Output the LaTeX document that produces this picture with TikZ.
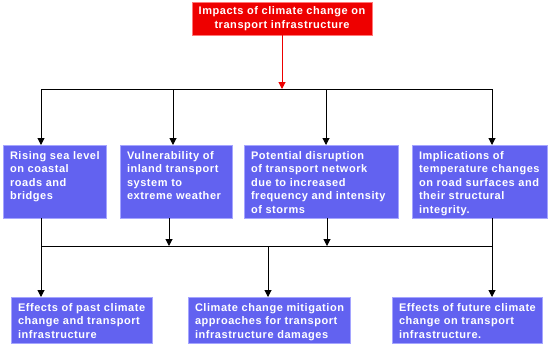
\documentclass[tikz,border=0pt]{standalone}
\usepackage{fontspec}
\setmainfont{Liberation Sans}[LetterSpace=5]
\usetikzlibrary{arrows.meta}
\definecolor{boxblue}{RGB}{98,98,240}
\definecolor{boxedge}{RGB}{165,165,255}
\definecolor{topred}{RGB}{238,0,0}
\definecolor{rededge}{RGB}{255,120,120}
\begin{document}
\begin{tikzpicture}[x=1bp,y=-1bp,
  bx/.style={fill=boxblue,draw=boxedge,line width=0.8bp,text=white,
    font=\fontsize{11bp}{13.4bp}\selectfont\bfseries,inner sep=0bp,
    anchor=north west,outer sep=0pt},
  topbox/.style={fill=topred,draw=rededge,line width=0.8bp,text=white,
    font=\fontsize{11bp}{13.6bp}\selectfont\bfseries,align=center,
    minimum width=180bp,minimum height=33bp,inner sep=0pt,anchor=north west,outer sep=0pt},
  conn/.style={line width=1bp,black},
  arr/.style={conn,-{Triangle[length=7bp,width=7bp]}},
  redarr/.style={line width=1bp,topred,-{Triangle[length=7bp,width=7bp]}}]
\newcommand{\bxt}[3]{\parbox[t][#2][t]{#1}{\vspace{6.5bp}\leftskip=7bp\rightskip=0pt plus 1fil\parfillskip=0pt plus 1fil\hbadness=10000\hfuzz=20bp\noindent #3}}
\useasboundingbox (0,0) rectangle (550,346);

\node[topbox] (top) at (192,2) {Impacts of climate change on\\transport infrastructure};

\node[bx] (b1) at (3,145) {\bxt{103bp}{73bp}{Rising sea level\\on coastal\\roads and\\bridges}};
\node[bx] (b2) at (120,145) {\bxt{112bp}{73bp}{Vulnerability of\\inland transport\\system to\\extreme weather}};
\node[bx] (b3) at (244,145) {\bxt{154bp}{73bp}{Potential disruption\\of transport network\\due to increased\\frequency and intensity\\of storms}};
\node[bx] (b4) at (412,145) {\bxt{135bp}{73bp}{Implications of\\temperature changes\\on road surfaces and\\their structural\\integrity.}};

\node[bx] (c1) at (11,297) {\bxt{141bp}{46bp}{Effects of past climate\\change and transport\\infrastructure}};
\node[bx] (c2) at (188,297) {\bxt{162bp}{46bp}{Climate change mitigation\\approaches for transport\\infrastructure damages}};
\node[bx] (c3) at (392,297) {\bxt{150bp}{46bp}{Effects of future climate\\change on transport\\infrastructure.}};

\coordinate (h1) at (282,89);
\coordinate (hL) at (41,89);
\coordinate (hR) at (492,89);
\coordinate (g1) at (41,246);
\coordinate (g2) at (492,246);

\draw[redarr] (top.south -| h1) -- (h1);
\draw[conn] (hL) -- (hR);
\draw[arr] (hL) -- (hL |- b1.north);
\draw[arr] (173,89) -- (173,145);
\draw[arr] (326,89) -- (326,145);
\draw[arr] (hR) -- (hR |- b4.north);

\draw[conn] (b1.south -| g1) -- (g1);
\draw[conn] (b4.south -| g2) -- (g2);
\draw[arr] (169,218) -- (169,246);
\draw[arr] (327,218) -- (327,246);
\draw[conn] (g1) -- (g2);

\draw[arr] (g1) -- (g1 |- c1.north);
\draw[arr] (268,246) -- (268,297);
\draw[arr] (g2) -- (g2 |- c3.north);
\end{tikzpicture}
\end{document}
